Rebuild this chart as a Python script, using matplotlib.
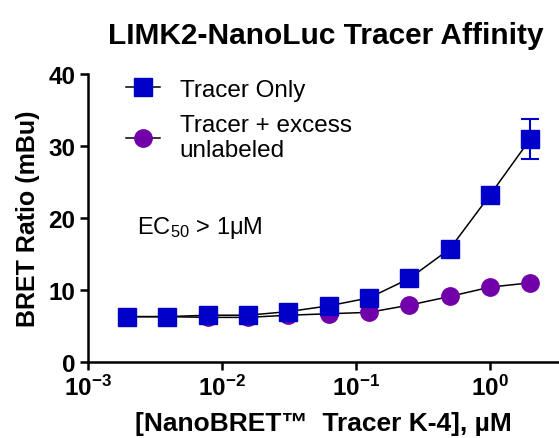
import numpy as np
import matplotlib
matplotlib.use("Agg")
import matplotlib.pyplot as plt

plt.rcParams['font.family'] = ['Liberation Sans', 'DejaVu Sans']
plt.rcParams['mathtext.fontset'] = 'custom'
plt.rcParams['mathtext.rm'] = 'Liberation Sans'
plt.rcParams['mathtext.bf'] = 'Liberation Sans:bold'
plt.rcParams['mathtext.it'] = 'Liberation Sans:italic'

# tracer concentration, uM (2-fold dilution series)
conc = [0.00195, 0.0039, 0.0078, 0.0156, 0.03125, 0.0625, 0.125, 0.25, 0.5, 1.0, 2.0]
tracer_only = [6.3, 6.3, 6.5, 6.5, 7.0, 7.8, 8.9, 11.6, 15.7, 23.2, 31.0]
tracer_only_err = [0, 0, 0, 0, 0, 0, 0, 0, 0, 0, 2.8]
tracer_excess = [6.3, 6.3, 6.2, 6.2, 6.5, 6.7, 6.9, 7.9, 9.1, 10.4, 11.0]

xticks = [1e-3, 1e-2, 1e-1, 1e0]
xticklabels = [r'$\mathbf{10^{-3}}$', r'$\mathbf{10^{-2}}$', r'$\mathbf{10^{-1}}$', r'$\mathbf{10^{0}}$']
yticks = [0, 10, 20, 30, 40]

blue = '#0000C8'
purple = '#7200AA'

fig = plt.figure(figsize=(5.59, 4.39), dpi=100)
ax = fig.add_axes([0.1574, 0.1731, 0.8426, 0.6560])

# fit lines (drawn under the markers)
ax.plot(conc, tracer_excess, color='black', lw=1.1, zorder=2)
ax.plot(conc, tracer_only, color='black', lw=1.1, zorder=2)

ax.plot(conc, tracer_excess, 'o', color=purple, ms=12.5, zorder=3, clip_on=False)
ax.errorbar(conc, tracer_only, yerr=tracer_only_err, fmt='none', ecolor=blue,
            elinewidth=1.5, capsize=6.5, capthick=1.5, zorder=3, clip_on=False)
ax.plot(conc, tracer_only, 's', color=blue, ms=13, zorder=4, clip_on=False)

# legend handles
h1, = ax.plot([], [], '-s', color='black', mfc=blue, mec=blue, ms=13, lw=1.1)
h2, = ax.plot([], [], '-o', color='black', mfc=purple, mec=purple, ms=12.5, lw=1.1)
ax.legend([h1, h2], ['Tracer Only', 'Tracer + excess\nunlabeled'],
          loc='upper left', bbox_to_anchor=(0.035, 1.06), frameon=False,
          fontsize=17.5, handlelength=1.4, handletextpad=0.8, labelspacing=0.55)

ax.set_xscale('log')
ax.set_xlim(1e-3, 3.27)
ax.set_ylim(0, 40)
ax.set_xticks(xticks)
ax.set_xticklabels(xticklabels)
ax.xaxis.set_minor_locator(matplotlib.ticker.NullLocator())
ax.set_yticks(yticks)
ax.set_yticklabels([str(v) for v in yticks], fontweight='bold')

for s in ['top', 'right']:
    ax.spines[s].set_visible(False)
for s in ['left', 'bottom']:
    ax.spines[s].set_linewidth(1.8)
ax.tick_params(axis='both', which='major', length=6, width=1.8, labelsize=17.5, pad=3)

ax.set_ylabel('BRET Ratio (mBu)', fontsize=18, fontweight='bold', labelpad=6)
ax.set_xlabel('[NanoBRET\u2122  Tracer K-4], \u00b5M', fontsize=19, fontweight='bold', labelpad=8)

fig.text(0.582, 0.918, 'LIMK2-NanoLuc Tracer Affinity', fontsize=21.5, fontweight='bold',
         ha='center', va='center')
fig.text(0.245, 0.481, r'EC$_{50}$ > 1$\mathrm{\mu}$M', fontsize=17, ha='left', va='center')

fig.savefig('out.png', dpi=100)
